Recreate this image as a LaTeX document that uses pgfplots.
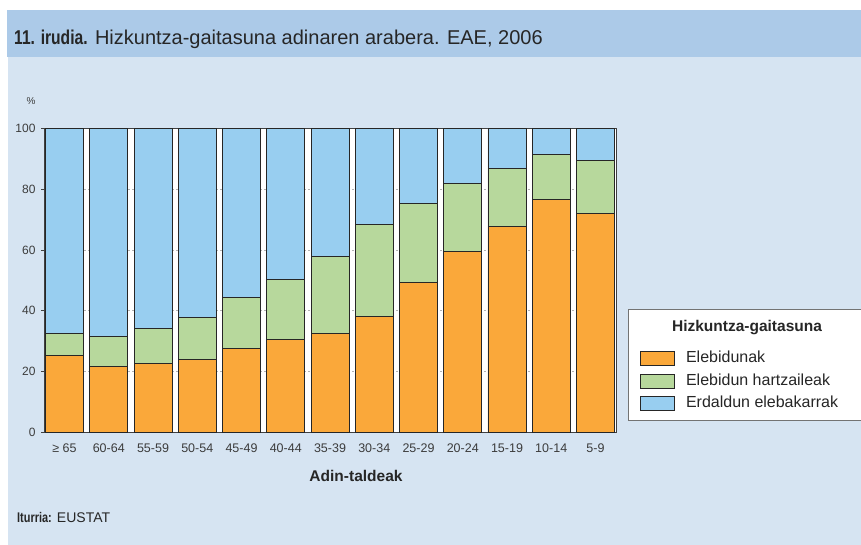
\documentclass[border=0pt]{standalone}
\usepackage{fontspec}
\setmainfont{Liberation Sans}
\newfontfamily\narrowfont{Liberation Sans}[FakeStretch=0.78]
\usepackage{pgfplots}
\pgfplotsset{compat=1.18}
\usepackage{pgfplotstable}
\definecolor{orng}{RGB}{250,168,58}
\definecolor{grn}{RGB}{183,216,156}
\definecolor{blu}{RGB}{152,206,240}
\definecolor{titleblue}{RGB}{172,202,232}
\definecolor{bodyblue}{RGB}{214,228,242}
\definecolor{txt}{RGB}{60,60,60}
\pgfplotsset{mylegend/.style={legend image code/.code={\draw[##1] (0pt,-7pt) rectangle (34pt,7pt);}}}
\pgfplotstableread{
x or gr bl
0 25.4 7.0 67.6
1 21.8 9.8 68.4
2 22.6 11.7 65.7
3 24.0 13.7 62.3
4 27.5 17.0 55.5
5 30.6 19.6 49.8
6 32.4 25.4 42.2
7 38.0 30.3 31.7
8 49.4 25.8 24.8
9 59.5 22.5 18.0
10 67.6 19.2 13.2
11 76.7 14.7 8.6
12 72.1 17.4 10.5
}\datatable
\begin{document}
\begin{tikzpicture}[x=1pt,y=1pt]
\useasboundingbox (0,0) rectangle (861,545);
\fill[white] (0,0) rectangle (861,545);
\fill[bodyblue] (8,0) rectangle (861,488);
\fill[titleblue] (7,488) rectangle (861,535);
\node[anchor=west,inner sep=0pt,text=black!85] at (14,505.5)
  {\fontsize{20}{24}\selectfont{\narrowfont\bfseries 11. irudia.} Hizkuntza-gaitasuna adinaren arabera. EAE, 2006};
\node[anchor=west,inner sep=0pt,text=black!85] at (17,28)
  {\fontsize{14}{16}\selectfont{\narrowfont\bfseries Iturria:} EUSTAT};
\node[inner sep=0pt,text=txt] at (31,444) {\fontsize{10}{12}\selectfont\%};
% legend box
\filldraw[fill=white,draw=black!55,line width=0.8pt] (628,236) rectangle (864,125);
\node[inner sep=0pt,text=black!85] at (747,217) {\fontsize{15.5}{18}\selectfont\bfseries Hizkuntza-gaitasuna};
\node[inner sep=0pt,text=black!85] at (356,69) {\fontsize{15.5}{18}\selectfont\bfseries Adin-taldeak};
\begin{axis}[
  at={(44pt,112.7pt)}, anchor=south west,
  scale only axis, width=572pt, height=304pt,
  ybar stacked, bar width=38pt,
  xmin=-0.464, xmax=12.464, ymin=0, ymax=100,
  axis background/.style={fill=white},
  axis line style={black!75, line width=0.9pt},
  xtick={0,...,12},
  xticklabels={≥ 65,60-64,55-59,50-54,45-49,40-44,35-39,30-34,25-29,20-24,15-19,10-14,5-9},
  x tick style={draw=none},
  ytick={0,20,...,100}, ytick pos=left,
  y tick style={black!75, line width=0.6pt},
  tick align=outside, major tick length=3pt,
  ymajorgrids, major grid style={gray!60, dash pattern=on 2pt off 2pt, line width=0.6pt},
  tick label style={text=txt},
  xticklabel style={font=\fontsize{12.5}{14}\selectfont, yshift=-5pt},
  yticklabel style={font=\fontsize{12}{14}\selectfont, xshift=-2pt},
  /pgf/number format/assume math mode=true,
  legend style={at={(1.042,0.267)}, anchor=north west, draw=none, fill=none,
    font=\fontsize{16}{18}\selectfont, text=black!85, row sep=7.7pt,
    inner sep=0pt, nodes={inner xsep=11pt, inner ysep=0pt, text height=11pt, text depth=3pt}},
  legend cell align=left,
]
\addplot[fill=orng, draw=black!85, line width=0.8pt, mylegend] table[x=x,y=or]{\datatable};
\addlegendentry{Elebidunak}
\addplot[fill=grn, draw=black!85, line width=0.8pt, mylegend] table[x=x,y=gr]{\datatable};
\addlegendentry{Elebidun hartzaileak}
\addplot[fill=blu, draw=black!85, line width=0.8pt, mylegend] table[x=x,y=bl]{\datatable};
\addlegendentry{Erdaldun elebakarrak}
\end{axis}
\end{tikzpicture}
\end{document}
